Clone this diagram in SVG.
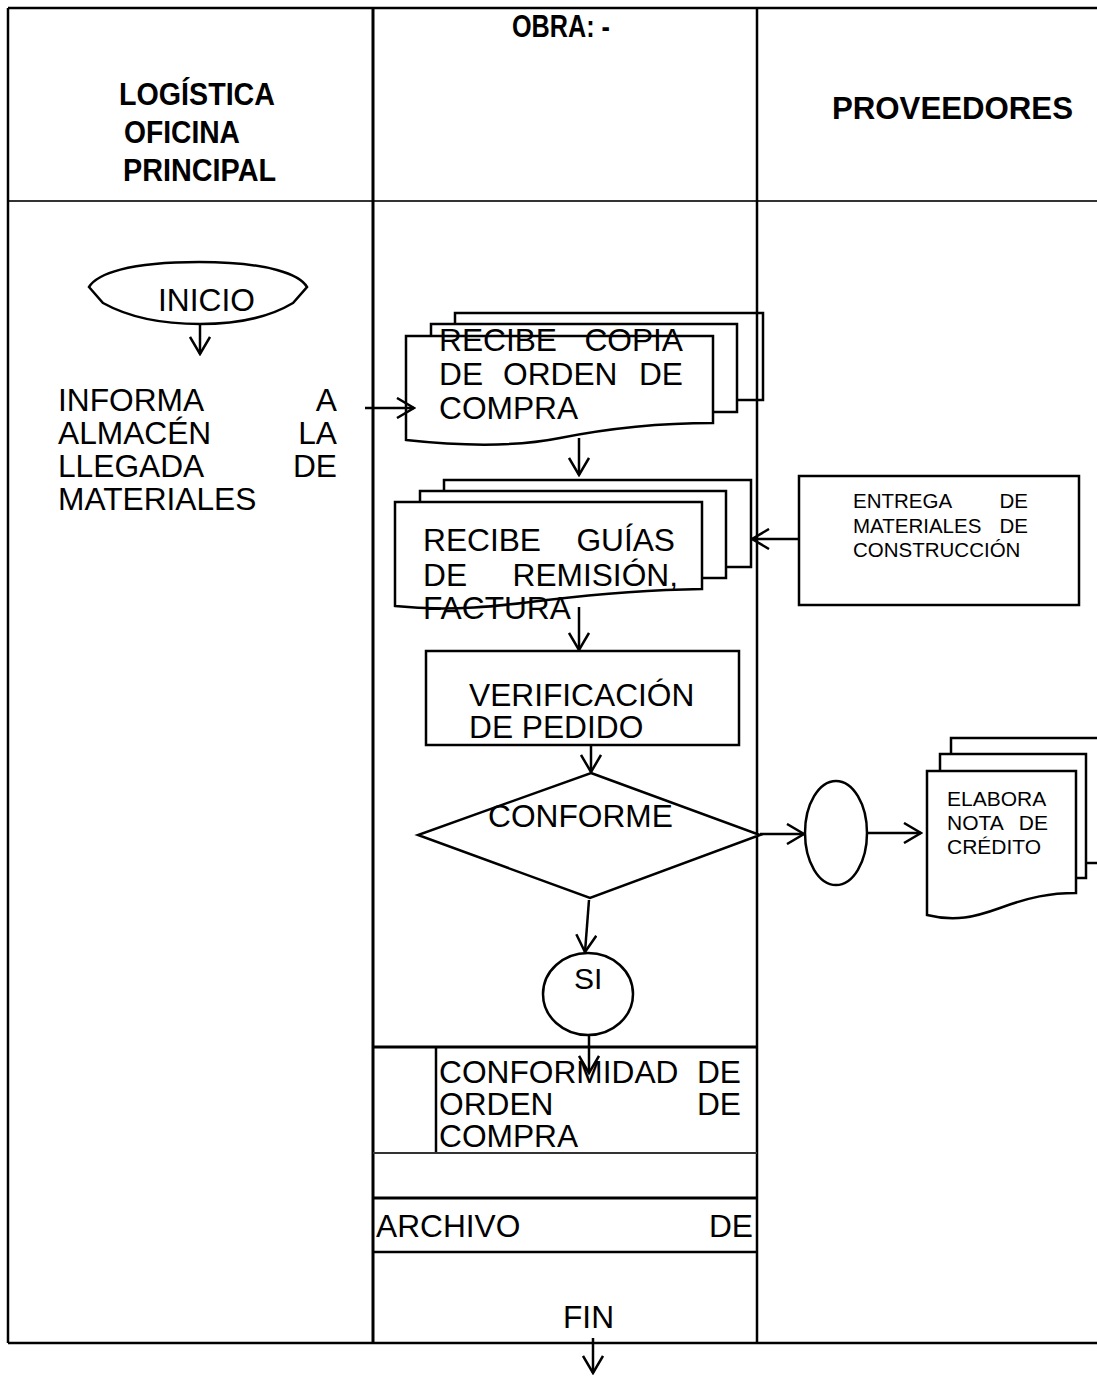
<svg xmlns="http://www.w3.org/2000/svg" width="1097" height="1376" viewBox="0 0 1097 1376">
<style>
.ln{stroke:#000;stroke-width:2.5;fill:none}
.lg{stroke:#333;stroke-width:2;fill:none}
.sh{fill:#fff;stroke:#000;stroke-width:2.5}
.no{fill:none;stroke:#000;stroke-width:2.5}
.t{font-family:"Liberation Sans",Arial,sans-serif;font-size:31.7px;fill:#000}
.h{font-weight:bold;font-size:31px}
.s{font-size:20.5px}
.c{stroke:#000;stroke-width:2.5;fill:none;marker-end:url(#ah)}
</style>
<defs>
<marker id="ah" markerUnits="userSpaceOnUse" viewBox="0 0 20 22" refX="18" refY="11" markerWidth="20" markerHeight="22" orient="auto">
<path d="M1,1 L18,11 L1,21" fill="none" stroke="#000" stroke-width="2.5"/>
</marker>
</defs>
<rect width="1097" height="1376" fill="#fff"/>
<g id="lanes">
<path class="ln" d="M8,8 H1097"/>
<path class="lg" d="M8,201 H1097"/>
<path class="ln" d="M8,8 V1343"/>
<path class="ln" d="M373,8 V1343" style="stroke-width:3"/>
<path class="ln" d="M757,8 V1343"/>
<path class="ln" d="M8,1343 H1097"/>
<path class="ln" d="M373,1047 H757" style="stroke-width:3"/>
<path class="ln" d="M436,1047 V1153"/>
<path class="lg" d="M373,1153 H757"/>
<path class="ln" d="M373,1198 H757" style="stroke-width:3"/>
<path class="ln" d="M373,1252 H757"/>
<text class="t h" x="512" y="37" textLength="98" lengthAdjust="spacingAndGlyphs">OBRA: -</text>
<text class="t h" x="119" y="105" textLength="156" lengthAdjust="spacingAndGlyphs">LOGÍSTICA</text>
<text class="t h" x="124" y="143" textLength="116" lengthAdjust="spacingAndGlyphs">OFICINA</text>
<text class="t h" x="123" y="181" textLength="153" lengthAdjust="spacingAndGlyphs">PRINCIPAL</text>
<text class="t h" x="832" y="119" textLength="241" lengthAdjust="spacingAndGlyphs">PROVEEDORES</text>
</g>
<g id="inicio">
<path class="sh" d="M89,287 L103,303 C130,318 165,324 200,324 C235,324 268,318 293,303 L307,287 C300,275 270,262 199,262 C128,262 97,274 89,287 Z"/>
<text class="t" x="158" y="311">INICIO</text>
</g>
<g id="informa">
<text class="t" x="58" y="411">INFORMA</text><text class="t" x="337" y="411" text-anchor="end">A</text>
<text class="t" x="58" y="444">ALMACÉN</text><text class="t" x="337" y="444" text-anchor="end">LA</text>
<text class="t" x="58" y="477">LLEGADA</text><text class="t" x="337" y="477" text-anchor="end">DE</text>
<text class="t" x="58" y="510">MATERIALES</text>
</g>
<g id="recibe-copia">
<rect class="no" x="455" y="313" width="308" height="87"/>
<rect class="sh" x="431" y="324" width="306" height="88"/>
<path class="sh" d="M406,336 H713 V423 C650,423 600,430 560,438 C520,446 470,447 406,440 Z"/>
<text class="t" x="439" y="351">RECIBE</text><text class="t" x="683" y="351" text-anchor="end">COPIA</text>
<text class="t" x="439" y="385">DE</text><text class="t" x="503" y="385">ORDEN</text><text class="t" x="683" y="385" text-anchor="end">DE</text>
<text class="t" x="439" y="419">COMPRA</text>
</g>
<g id="recibe-guias">
<rect class="sh" x="444" y="480" width="307" height="87"/>
<rect class="sh" x="420" y="491" width="306" height="87"/>
<path class="sh" d="M395,502 H702 V589 C640,590 590,595 547,600 C500,606 450,612 395,606 Z"/>
<text class="t" x="423" y="551">RECIBE</text><text class="t" x="675" y="551" text-anchor="end">GUÍAS</text>
<text class="t" x="423" y="586">DE</text><text class="t" x="678" y="586" text-anchor="end">REMISIÓN,</text>
<text class="t" x="423" y="619">FACTURA</text>
</g>
<g id="entrega">
<rect class="sh" x="799" y="476" width="280" height="129"/>
<text class="t s" x="853" y="508">ENTREGA</text><text class="t s" x="1028" y="508" text-anchor="end">DE</text>
<text class="t s" x="853" y="533">MATERIALES</text><text class="t s" x="1028" y="533" text-anchor="end">DE</text>
<text class="t s" x="853" y="557">CONSTRUCCIÓN</text>
</g>
<g id="verificacion">
<rect class="sh" x="426" y="651" width="313" height="94"/>
<text class="t" x="469" y="706">VERIFICACIÓN</text>
<text class="t" x="469" y="738">DE PEDIDO</text>
</g>
<g id="conforme">
<path class="sh" d="M591,773 L760,835 L590,898 L418,835 Z"/>
<text class="t" x="488" y="827">CONFORME</text>
</g>
<g id="conector">
<ellipse class="sh" cx="836" cy="833" rx="31" ry="52"/>
</g>
<g id="nota-credito">
<rect class="sh" x="951" y="738" width="200" height="125"/>
<rect class="sh" x="940" y="754" width="146" height="124"/>
<path class="sh" d="M927,771 H1076 V893 C1050,893 1030,897 1000,908 C975,917 955,922 927,915 Z"/>
<text class="t" x="947" y="806" style="font-size:21px">ELABORA</text>
<text class="t" x="947" y="830" style="font-size:21px">NOTA</text><text class="t" x="1048" y="830" text-anchor="end" style="font-size:21px">DE</text>
<text class="t" x="947" y="854" style="font-size:21px">CRÉDITO</text>
</g>
<g id="si">
<ellipse class="sh" cx="588" cy="994" rx="45" ry="41"/>
<text class="t" x="574" y="989" style="font-size:30px">SI</text>
</g>
<g id="conformidad">
<text class="t" x="439" y="1083">CONFORMIDAD</text><text class="t" x="741" y="1083" text-anchor="end">DE</text>
<text class="t" x="439" y="1115">ORDEN</text><text class="t" x="741" y="1115" text-anchor="end">DE</text>
<text class="t" x="439" y="1147">COMPRA</text>
</g>
<g id="archivo">
<text class="t" x="376" y="1237">ARCHIVO</text><text class="t" x="753" y="1237" text-anchor="end">DE</text>
</g>
<g id="fin">
<text class="t" x="563" y="1328">FIN</text>
</g>
<g id="connectors">
<path class="c" d="M200,324 V354"/>
<path class="c" d="M365,408 H414"/>
<path class="c" d="M579,438 V475"/>
<path class="c" d="M799,539 H752"/>
<path class="c" d="M579,607 V650"/>
<path class="c" d="M591,745 V772"/>
<path class="c" d="M760,834 H804"/>
<path class="c" d="M867,833 H921"/>
<path class="c" d="M589,900 L585,952"/>
<path class="c" d="M589,1036 V1073"/>
<path class="c" d="M593,1338 V1373"/>
</g>
</svg>
